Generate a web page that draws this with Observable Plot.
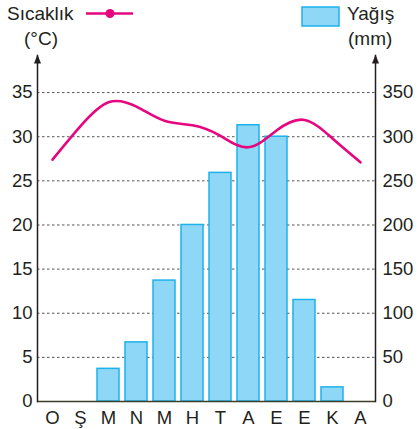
<!DOCTYPE html>
<html><head><meta charset="utf-8">
<script src="https://cdn.jsdelivr.net/npm/d3@7"></script>
<script src="https://cdn.jsdelivr.net/npm/@observablehq/plot@0.6"></script>
<style>
body{margin:0;background:#fff;font-family:"Liberation Sans",Arial,sans-serif;color:#231f20}
#wrap{position:relative;width:418px;height:429px}
#legend{position:absolute;left:0;top:0}
</style></head><body>
<div id="wrap"></div>
<script>
// Months (Ocak ... Aralık) initials
const monthLabels = ["O","Ş","M","N","M","H","T","A","E","E","K","A"];
// Monthly precipitation (mm)
const precipitation = [0, 0, 37, 67, 137, 200, 259, 313, 300, 115, 16, 0];
// Monthly temperature (°C)
const temperature = [27.4, 31.2, 33.9, 33.4, 31.8, 31.3, 30.1, 28.8, 30.7, 31.9, 29.8, 27.1];
// Axis ticks (mm); left axis shows the same lines as °C (÷10)
const precipTicks = [0, 50, 100, 150, 200, 250, 300, 350];
const axisTop = 392;

const rows = monthLabels.map((m, i) => ({i, label: m, p: precipitation[i], t: temperature[i]}));

const ink = "#231f20";
const arrowSym = {draw(ctx) { ctx.moveTo(0, -1); ctx.lineTo(3.5, 8); ctx.lineTo(-3.5, 8); ctx.closePath(); }};

const chart = Plot.plot({
  width: 418, height: 429,
  marginLeft: 37, marginRight: 43, marginTop: 55, marginBottom: 28,
  style: {fontFamily: "Liberation Sans, Arial, sans-serif", fontSize: "18.5px", color: ink, background: "transparent"},
  x: {type: "band", domain: d3.range(12), paddingInner: 0.22, paddingOuter: 0.1},
  y: {domain: [0, axisTop]},
  marks: [
    Plot.gridY(precipTicks.filter(d => d > 0), {stroke: "#555", strokeOpacity: 1, strokeDasharray: "2.5,2.5"}),
    Plot.barY(rows.filter(d => d.p > 0), {x: "i", y: "p", fill: "#8fd7f6", stroke: "#1db2ec", strokeWidth: 1.5}),
    Plot.line(rows, {x: "i", y: d => d.t * 10, curve: "natural", stroke: "#e6077f", strokeWidth: 2.6}),
    Plot.ruleY([0], {stroke: "#3d3f28", strokeWidth: 1.5}),
    Plot.frame({anchor: "left", stroke: ink, strokeWidth: 1.5}),
    Plot.frame({anchor: "right", stroke: ink, strokeWidth: 1.5}),
    Plot.dot([0], {frameAnchor: "top-left", symbol: arrowSym, fill: ink, r: 4}),
    Plot.dot([0], {frameAnchor: "top-right", symbol: arrowSym, fill: ink, r: 4}),
    Plot.axisY({anchor: "left", ticks: precipTicks, tickFormat: d => d / 10, tickSize: 0, tickPadding: 5, label: null}),
    Plot.axisY({anchor: "right", ticks: precipTicks, tickSize: 0, tickPadding: 7, label: null}),
    Plot.axisX({tickSize: 0, tickPadding: 9, tickFormat: i => monthLabels[i], label: null})
  ]
});
const wrap = document.getElementById("wrap");
wrap.appendChild(chart);

// Legend overlay
const lg = d3.select(wrap).append("svg").attr("id", "legend").attr("width", 418).attr("height", 50)
  .style("font-family", "Liberation Sans, Arial, sans-serif").style("font-size", "19px");
lg.append("text").attr("x", 7).attr("y", 20).attr("fill", ink).text("Sıcaklık");
lg.append("text").attr("x", 24).attr("y", 45).attr("fill", ink).text("(°C)");
lg.append("line").attr("x1", 86).attr("x2", 133).attr("y1", 13.5).attr("y2", 13.5).attr("stroke", "#e6077f").attr("stroke-width", 2.6);
lg.append("circle").attr("cx", 110).attr("cy", 13.5).attr("r", 4.5).attr("fill", "#e6077f");
lg.append("rect").attr("x", 302).attr("y", 7).attr("width", 37).attr("height", 19).attr("fill", "#8fd7f6").attr("stroke", "#1db2ec").attr("stroke-width", 1.5);
lg.append("text").attr("x", 347).attr("y", 20).attr("fill", ink).text("Yağış");
lg.append("text").attr("x", 348).attr("y", 45).attr("fill", ink).text("(mm)");
</script>
</body></html>
